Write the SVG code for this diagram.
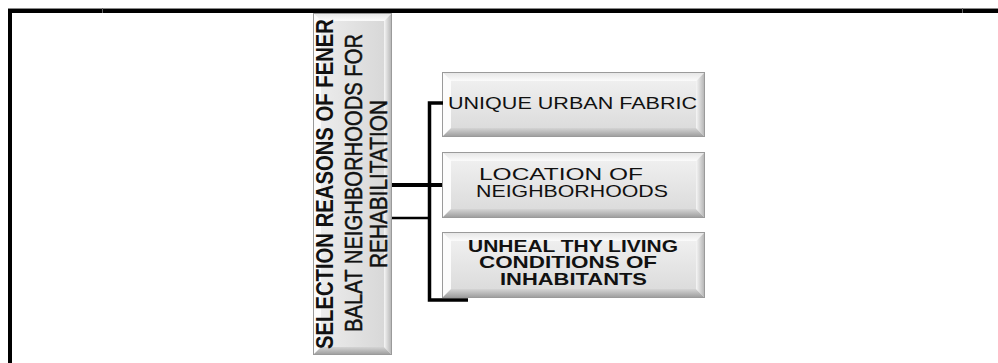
<svg xmlns="http://www.w3.org/2000/svg" width="998" height="363" viewBox="0 0 998 363">
  <defs>
    <linearGradient id="faceGrad" x1="0" y1="0" x2="0" y2="1">
      <stop offset="0" stop-color="#efefef"/>
      <stop offset="1" stop-color="#dcdcdc"/>
    </linearGradient>
    <linearGradient id="faceGradV" x1="0" y1="0" x2="1" y2="0">
      <stop offset="0" stop-color="#ececec"/>
      <stop offset="1" stop-color="#d8d8d8"/>
    </linearGradient>
    <linearGradient id="rightGrad" x1="0" y1="0" x2="1" y2="0">
      <stop offset="0" stop-color="#f6f6f6"/>
      <stop offset="1" stop-color="#b0b0b0"/>
    </linearGradient>
    <linearGradient id="bottomGrad" x1="0" y1="0" x2="0" y2="1">
      <stop offset="0" stop-color="#d4d4d4"/>
      <stop offset="1" stop-color="#9a9a9a"/>
    </linearGradient>
    <linearGradient id="topGrad" x1="0" y1="0" x2="0" y2="1">
      <stop offset="0" stop-color="#e4e4e4"/>
      <stop offset="1" stop-color="#fbfbfb"/>
    </linearGradient>
  </defs>
  <style>
    .bt { fill: url(#topGrad); }
    .bl { fill: #fcfcfc; }
    .br { fill: url(#rightGrad); }
    .bb { fill: url(#bottomGrad); }
    .face { fill: url(#faceGrad); }
    .edge { fill: none; stroke: #9a9a9a; stroke-width: 1; }
    .vtxt { font-family: "Liberation Sans", Arial, sans-serif; font-size: 24px; fill: #111; text-anchor: middle; }
    .btxt { font-family: "Liberation Sans", Arial, sans-serif; font-size: 17px; fill: #111; }
    .bold { font-weight: bold; }
    .conn { fill: none; stroke: #000; stroke-linecap: butt; stroke-linejoin: miter; }
  </style>

  <rect width="998" height="363" fill="#fff"/>

  <!-- page frame (top and left edges) -->
  <g id="frame">
    <line x1="8" y1="8.5" x2="998" y2="8.5" stroke="#8a8a8a" stroke-width="1"/>
    <path d="M10,363 V11 H998" fill="none" stroke="#000" stroke-width="4"/>
    <line x1="102.5" y1="8" x2="102.5" y2="13" stroke="#666" stroke-width="1"/>
    <line x1="962.5" y1="8" x2="962.5" y2="13" stroke="#666" stroke-width="1"/>
  </g>

  <!-- root node: vertical bevelled box -->
  <g id="node-root">
    <polygon class="bt" points="313,13 392,13 384,21 321,21"/>
    <polygon class="bl" points="313,13 321,21 321,347 313,355"/>
    <polygon class="br" points="392,13 392,355 384,347 384,21"/>
    <polygon class="bb" points="313,355 392,355 384,347 321,347"/>
    <rect x="321" y="21" width="63" height="326" fill="url(#faceGradV)"/>
    <rect class="edge" x="313.5" y="13.5" width="78" height="341"/>
    <text class="vtxt bold" transform="translate(333,184) rotate(-90)" textLength="330" lengthAdjust="spacingAndGlyphs">SELECTION REASONS  OF FENER</text>
    <text class="vtxt" transform="translate(361.5,183) rotate(-90)" textLength="298" lengthAdjust="spacingAndGlyphs" stroke="#111" stroke-width="0.5">BALAT NEIGHBORHOODS FOR</text>
    <text class="vtxt" transform="translate(387,184) rotate(-90)" textLength="168" lengthAdjust="spacingAndGlyphs" stroke="#111" stroke-width="0.5">REHABILITATION</text>
  </g>

  <!-- child node 1 -->
  <g id="node-urban-fabric">
    <polygon class="bt" points="442,72 705,72 696,81 451,81"/>
    <polygon class="bl" points="442,72 451,81 451,128 442,137"/>
    <polygon class="br" points="705,72 705,137 696,128 696,81"/>
    <polygon class="bb" points="442,137 705,137 696,128 451,128"/>
    <rect class="face" x="451" y="81" width="245" height="47"/>
    <rect class="edge" x="442.5" y="72.5" width="262" height="64"/>
    <text class="btxt" x="448" y="109" font-size="18" textLength="249" lengthAdjust="spacingAndGlyphs">UNIQUE URBAN FABRIC</text>
  </g>

  <!-- child node 2 -->
  <g id="node-location">
    <polygon class="bt" points="442,152 705,152 696,161 451,161"/>
    <polygon class="bl" points="442,152 451,161 451,209 442,218"/>
    <polygon class="br" points="705,152 705,218 696,209 696,161"/>
    <polygon class="bb" points="442,218 705,218 696,209 451,209"/>
    <rect class="face" x="451" y="161" width="245" height="48"/>
    <rect class="edge" x="442.5" y="152.5" width="262" height="65"/>
    <text class="btxt" x="479" y="180" textLength="164" lengthAdjust="spacingAndGlyphs">LOCATION OF</text>
    <text class="btxt" x="476" y="197" textLength="192" lengthAdjust="spacingAndGlyphs">NEIGHBORHOODS</text>
  </g>

  <!-- child node 3 -->
  <g id="node-living-conditions">
    <polygon class="bt" points="442,232 705,232 696,241 451,241"/>
    <polygon class="bl" points="442,232 451,241 451,289 442,298"/>
    <polygon class="br" points="705,232 705,298 696,289 696,241"/>
    <polygon class="bb" points="442,298 705,298 696,289 451,289"/>
    <rect class="face" x="451" y="241" width="245" height="48"/>
    <rect class="edge" x="442.5" y="232.5" width="262" height="65"/>
    <text class="btxt bold" x="468" y="252" textLength="210" lengthAdjust="spacingAndGlyphs">UNHEAL THY LIVING</text>
    <text class="btxt bold" x="479" y="268" textLength="178" lengthAdjust="spacingAndGlyphs">CONDITIONS OF</text>
    <text class="btxt bold" x="500" y="285" textLength="147" lengthAdjust="spacingAndGlyphs">INHABITANTS</text>
  </g>

  <!-- connectors -->
  <g id="connectors">
    <path class="conn" d="M443,103 H429.5 V300 H468" stroke-width="3.5"/>
    <path class="conn" d="M392,185 H442" stroke-width="4"/>
    <path class="conn" d="M392,218 H429" stroke-width="2.5"/>
  </g>
</svg>
